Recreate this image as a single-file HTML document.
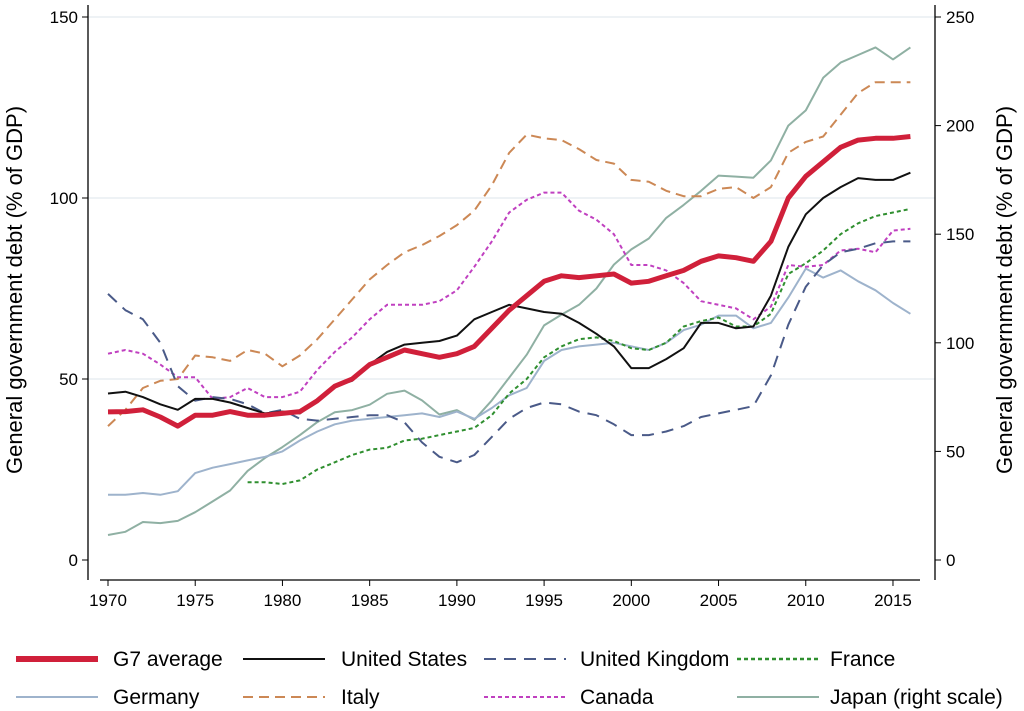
<!DOCTYPE html>
<html><head><meta charset="utf-8"><style>
body{margin:0;background:#fff;}
svg{display:block;font-family:"Liberation Sans",sans-serif;}
</style></head><body>
<svg id="chart" width="1024" height="711" viewBox="0 0 1024 711"></svg>
<script>
const years=[];for(let y=1970;y<=2016;y++)years.push(y);
const leftTicks=[0,50,100,150];
const rightTicks=[0,50,100,150,200,250];
const xTicks=[1970,1975,1980,1985,1990,1995,2000,2005,2010,2015];
const g7=[40.9,41,41.5,39.5,37,40,40,41,40,40,40.5,41,44,48,50,54,56,58,57,56,57,59,64,69,73,77,78.5,78,78.5,79,76.5,77,78.5,80,82.5,84,83.5,82.5,88,100,106,110,114,116,116.5,116.5,117];
const us=[46,46.5,45,43,41.5,44.5,44.5,43.5,42,40.5,41,40.5,44,48,49.5,54,57.5,59.5,60,60.5,62,66.5,68.5,70.5,69.5,68.5,68,65.5,62.5,59,53,53,55.5,58.5,65.5,65.5,64,64.5,73,86.5,95.5,100,103,105.5,105,105,107];
const uk=[73.5,69,66.5,60,48,44,45,44.5,43,40.5,41.5,39,38.5,39,39.5,40,40,38,32.5,28.5,27,29,34,39,42,43.5,43,41,40,37.5,34.5,34.5,35.5,37,39.5,40.5,41.5,42.5,51,65,75.5,81.5,85,86,87.5,88,88];
const france=[null,null,null,null,null,null,null,null,21.5,21.5,21,22,25,27,29,30.5,31,33,33.5,34.5,35.5,36.5,40,46,50,56,59,61,61.5,60.5,58.5,58,60,64.5,66,67,64.5,64.5,68,79,82,85.5,90,93,95,96,97];
const germany=[18,18,18.5,18,19,24,25.5,26.5,27.5,28.5,30,33,35.5,37.5,38.5,39,39.5,40,40.5,39.5,41,39,42,45.5,47.5,55,58,59,59.5,60,59,58,60,63.5,65,67.5,67.5,64,65.5,72.5,80.5,78,80,77,74.5,71,68];
const italy=[37,41.5,47.5,49.5,50,56.5,56,55,58,57,53.5,56.5,61,66.5,72,77.5,81.5,85,87,89.5,92.5,96.5,103.5,112.5,117.5,116.5,116,113.5,110.5,109.5,105,104.5,102,100.5,100.5,102.5,103,100,103,112.5,115.5,117,123,129,132,132,132];
const canada=[57,58,57,54,50.5,50.5,44.5,45,47.5,45,45,46.5,52.5,57.5,61.5,66.5,70.5,70.5,70.5,71.5,74.5,81,88,96,99.5,101.5,101.5,96.5,94,90,81.5,81.5,80,76.5,71.5,70.5,69.5,66.5,70,81.5,81,81.5,85.5,86,85,91,91.5];
const japan=[11.5,13,17.5,17,18,22,27,32,41,47,52,57.5,63.5,68,69,71.5,76.5,78,73.5,67,69,64.5,73.5,84,94.5,108,113,117.5,125,136,143,148,157.5,163.5,170,177,176.5,176,184,200,207,222,229,232.5,236,230.5,236];

const svg=document.getElementById('chart');
const NS='http://www.w3.org/2000/svg';
const X=y=>108+(y-1970)*17.444;
const YL=v=>560-v*3.62;
const YR=v=>560-v*2.172;
function mk(t,a){const e=document.createElementNS(NS,t);for(const k in a)e.setAttribute(k,a[k]);svg.appendChild(e);return e;}

leftTicks.forEach(v=>{if(v>0){const g=mk('line',{x1:88,x2:935,y1:YL(v),y2:YL(v),stroke:'#e3ebef','stroke-width':1.2});

}});
const ax=mk('path',{d:'M88,5V580M935,5V580M100,580H920',stroke:'#000','stroke-width':1.3,fill:'none'});


leftTicks.forEach(v=>{mk('line',{x1:82,x2:88,y1:YL(v),y2:YL(v),stroke:'#000'});
const t=mk('text',{x:78,y:YL(v)+6,'text-anchor':'end','font-size':17});t.textContent=v;

});
rightTicks.forEach(v=>{mk('line',{x1:935,x2:941,y1:YR(v),y2:YR(v),stroke:'#000'});
const t=mk('text',{x:946,y:YR(v)+6,'font-size':17});t.textContent=v;

});
xTicks.forEach(v=>{mk('line',{x1:X(v),x2:X(v),y1:580,y2:586,stroke:'#000'});
const t=mk('text',{x:X(v),y:606,'text-anchor':'middle','font-size':17});t.textContent=v;

});
const yl=mk('text',{x:0,y:0,'text-anchor':'middle','font-size':22,transform:'translate(22,290) rotate(-90)'});yl.textContent='General government debt (% of GDP)';


const yr=mk('text',{x:0,y:0,'text-anchor':'middle','font-size':22,transform:'translate(1012,290) rotate(-90)'});yr.textContent='General government debt (% of GDP)';



const series=[
 {n:'japan',d:japan,c:'#8fb0a3',w:2,da:'',r:true},
 {n:'germany',d:germany,c:'#9eb3cc',w:2,da:''},
 {n:'france',d:france,c:'#2f8f2f',w:2,da:'4,3'},
 {n:'canada',d:canada,c:'#c040c0',w:2,da:'4,3'},
 {n:'italy',d:italy,c:'#cc8855',w:2,da:'10,6'},
 {n:'uk',d:uk,c:'#4a5a88',w:2,da:'12,8'},
 {n:'us',d:us,c:'#111',w:2,da:''},
 {n:'g7',d:g7,c:'#d0203a',w:5,da:''}
];
series.forEach(s=>{let d='';let st=false;s.d.forEach((v,i)=>{if(v==null)return;const y=s.r?YR(v):YL(v);d+=(st?'L':'M')+X(years[i]).toFixed(1)+','+y.toFixed(1);st=true;});
const p=mk('path',{d:d,stroke:s.c,'stroke-width':s.w,fill:'none','stroke-dasharray':s.da,'stroke-linejoin':'round'});

});

const legend=[
 ['G7 average','#d0203a',6,'',16,113,659],['United States','#111',2,'',243,341,659],['United Kingdom','#4a5a88',2,'12,8',484,580,659],['France','#2f8f2f',2.5,'4,3',737,830,659],
 ['Germany','#9eb3cc',2,'',16,113,697],['Italy','#cc8855',2,'10,6',243,341,697],['Canada','#c040c0',2,'4,3',484,580,697],['Japan (right scale)','#8fb0a3',2,'',737,830,697]];
legend.forEach(l=>{const g=mk('line',{x1:l[4],x2:l[4]+82,y1:l[6],y2:l[6],stroke:l[1],'stroke-width':l[2],'stroke-dasharray':l[3]});


const t=mk('text',{x:l[5],y:l[6]+7,'font-size':21});t.textContent=l[0];

});
</script>
</body></html>
